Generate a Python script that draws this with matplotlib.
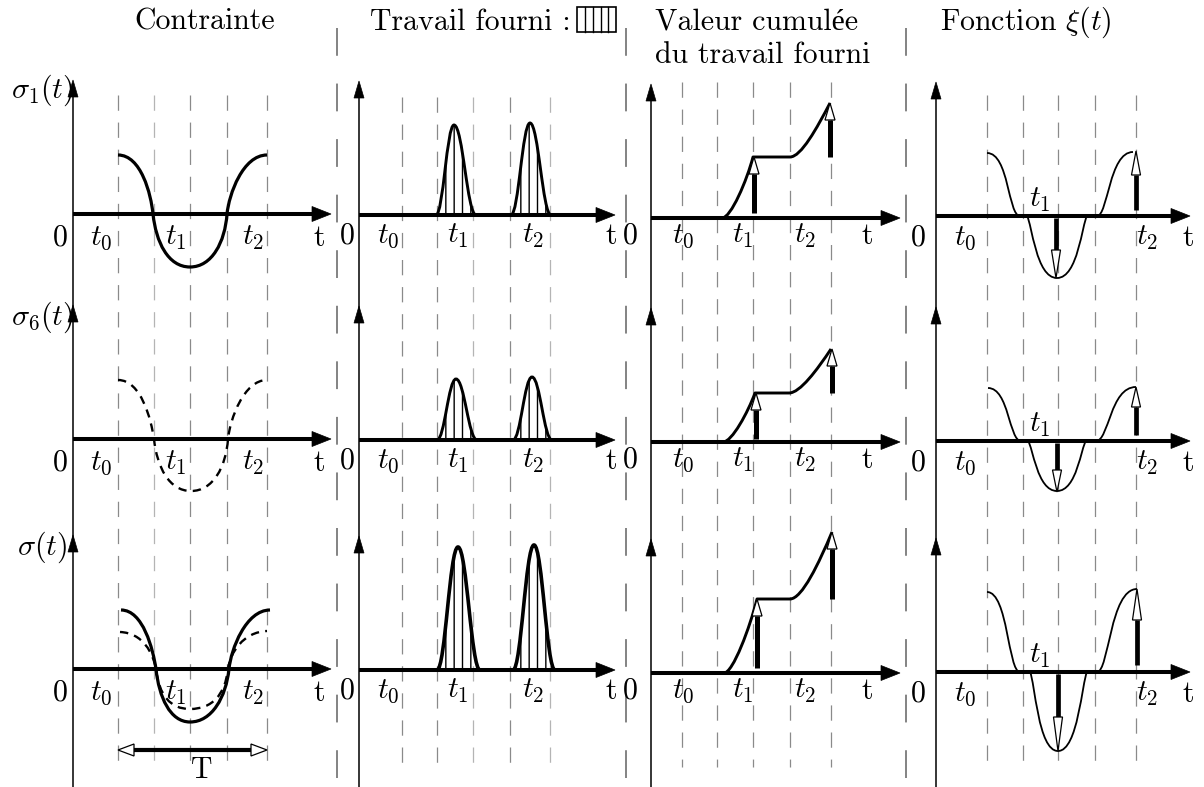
import matplotlib
matplotlib.use("Agg")
import matplotlib.pyplot as plt
from matplotlib.path import Path
from matplotlib.patches import PathPatch, Polygon, Rectangle
from matplotlib.transforms import Affine2D

plt.rcParams["mathtext.fontset"] = "cm"
plt.rcParams["lines.scale_dashes"] = False
plt.rcParams["hatch.linewidth"] = 1.0

# ------------------------------------------------------------------ data
# Local units of every panel: x = distance to the right of its y axis,
# y = height above its t axis.
column_titles = ["Contrainte", "Travail fourni :", "Valeur cumulée", "du travail fourni",
                 r"Fonction $\xi(t)$"]
row_labels = [r"$\sigma_1(t)$", r"$\sigma_6(t)$", r"$\sigma(t)$"]
tick_names = ["0", r"$t_0$", r"$t_1$", r"$t_2$", "t"]
period_label = "T"

# Contrainte (cubic Bezier vertices: start, then ctrl, ctrl, end ...)
sigma1_x = [45, 68, 78, 80, 83, 95, 117, 139, 152, 154, 156, 170, 194]
sigma1_y = [59, 59, 20, 0, -28, -53, -53, -53, -28, 0, 20, 59, 59]
sigma6_x = [45, 68, 78, 81, 84, 96, 118, 140, 153, 155, 157, 171, 194]
sigma6_y = [59, 59, 20, 0, -28, -52, -52, -52, -28, 0, 20, 59, 59]
sigma_x = [48, 70, 80, 83, 86, 97, 117, 139, 153, 156, 158, 173, 197]
sigma_y = [59, 59, 20, 0, -28, -53, -53, -53, -28, 0, 20, 59, 59]
sigma6b_x = [47, 70, 80, 83, 86, 97, 117, 139, 152, 155, 157, 170, 194]
sigma6b_y = [37, 36, 16, 0, -26, -40, -40, -40, -26, 0, 16, 37, 38]

# Travail fourni: bumps (start, peak, end, height) per row
work_start = [[77, 152], [78, 154], [78, 154]]
work_peak = [[95, 171], [97, 173], [99, 175]]
work_end = [[117, 192], [118, 193], [121, 196]]
work_height = [[90, 92], [61, 63], [123, 125]]

# Valeur cumulée du travail fourni (Bezier vertices)
cum1_x = [71, 80, 96, 102, 114, 127, 139, 150, 166, 179]
cum1_y = [0, 0, 38, 61, 61, 61, 61, 61, 90, 115]
cum2_x = [72, 81, 97, 104, 115, 127, 138, 149, 166, 180]
cum2_y = [0, 0, 30, 49, 49, 49, 49, 49, 72, 93]
cum3_x = [73, 82, 99, 106, 117, 128, 139, 151, 168, 181]
cum3_y = [0, 0, 46, 74, 74, 74, 74, 74, 110, 141]
# increments: (x, from, to)
cum_arrows = [[(103, 5, 61), (179, 61, 115)],
              [(105, 3, 49), (181, 49, 93)],
              [(106, 5, 74), (181, 74, 141)]]

# Fonction xi(t) (Bezier vertices)
xi1_x = [51, 73, 72, 84, 87, 89, 91, 96, 100, 121, 142, 146, 151, 154, 158, 161, 172, 173, 197]
xi1_y = [63, 63, 0, 0, 0, 0, 0, -8, -62, -62, -62, -8, 0, 0, 0, 0, 0, 64, 64]
xi2_x = [52, 73, 73, 85, 87, 90, 92, 97, 101, 121, 141, 145, 150, 153, 157, 160, 173, 174, 200]
xi2_y = [53, 53, 0, 0, 0, 0, 0, -6, -50, -50, -50, -6, 0, 0, 0, 0, 0, 54, 54]
xi3_x = [51, 72, 72, 84, 88, 91, 94, 99, 102, 122, 142, 146, 151, 154, 158, 161, 173, 174, 201]
xi3_y = [80, 80, 0, 0, 0, 0, 0, -10, -79, -79, -79, -10, 0, 0, 0, 0, 0, 83, 83]
# (x, from, to, head length)
xi_arrows = [[(120, -2, -62, 28), (200, 6, 65, 24)],
             [(121, -2, -51, 22), (200, 6, 54, 20)],
             [(122, -2, -79, 34), (201, 7, 83, 31)]]

# period arrow T (x from, x to, height) in the Contrainte panel of row 3
period_x = [45, 194]
period_y = -81

# ------------------------------------------------------------------ layout
X0 = [73, 359, 651, 936]                       # y-axis pixel column of each panel
AXIS_Y = [[214, 215, 218, 216],                # t-axis pixel row, per row and column
          [439, 440, 442, 441],
          [669, 670, 673, 672]]
AXIS_LEN = [258, 256, 249, 254]
Y_TIP = 134
GUIDES = [[45, 81, 117, 154, 194],
          [43, 78, 114, 151, 191],
          [31, 66, 102, 139, 180],
          [51, 87, 122, 159, 200]]
GUIDE_LIGHT = [[1], [2, 4], [], []]
GUIDE_TOP = [95, 97, 82, 95]
GUIDE_BOTTOM = 767
SEPARATORS = [337, 626, 906]
TICK_X = [[-13, 28, 103, 180, 246],
          [-12, 29, 99, 174, 252],
          [-21, 32, 92, 154, 216],
          [-18, 29, 104, 211, 252]]
TICK_DY = [-24, -21, -18, -22]

FS = 21.5
SERIF = ["cmr10", "Liberation Serif"]

fig = plt.figure(figsize=(12.04, 7.87), dpi=100)
ax = fig.add_axes([0, 0, 1, 1])
ax.set_xlim(0, 1204)
ax.set_ylim(787, 0)
ax.axis("off")


def local(c, r):
    return Affine2D().scale(1, -1).translate(X0[c], AXIS_Y[r][c]) + ax.transData


def bezier(xs, ys, c, r, **kw):
    verts = list(zip(xs, ys))
    codes = [Path.MOVETO] + [Path.CURVE4] * (len(verts) - 1)
    ax.add_patch(PathPatch(Path(verts, codes), fill=False, transform=local(c, r),
                           capstyle="butt", joinstyle="round", zorder=4, **kw))


def bump(a, p, b, h, c, r, lw):
    verts = [(a, 0), (a + 0.4 * (p - a), 0), (p - 0.4 * (p - a), h), (p, h),
             (p + 0.4 * (b - p), h), (b - 0.4 * (b - p), 0), (b, 0), (a, 0)]
    codes = [Path.MOVETO] + [Path.CURVE4] * 6 + [Path.CLOSEPOLY]
    ax.add_patch(PathPatch(Path(verts, codes), facecolor="none", edgecolor="black",
                           hatch="||", lw=lw, transform=local(c, r), zorder=4))


def up_arrow(x, y0, y1, c, r, head_len, head_w, shaft_w):
    s = 1 if y1 > y0 else -1
    yb = y1 - s * head_len
    ax.plot([x, x], [y0, yb], color="black", lw=shaft_w, solid_capstyle="butt",
            transform=local(c, r), zorder=5)
    ax.add_patch(Polygon([(x - head_w / 2, yb), (x + head_w / 2, yb), (x, y1)],
                         closed=True, facecolor="white", edgecolor="black", lw=0.9,
                         transform=local(c, r), zorder=6))


# column separators
for xs in SEPARATORS:
    ax.plot([xs, xs], [28, 787], color="#6e6e6e", lw=1.2, ls=(0, (20, 20)), zorder=1)

# dashed guides
for c in range(4):
    for i, off in enumerate(GUIDES[c]):
        col = "#b4b4b4" if i in GUIDE_LIGHT[c] else "#8a8a8a"
        ax.plot([X0[c] + off] * 2, [GUIDE_TOP[c], GUIDE_BOTTOM], color=col, lw=0.9,
                ls=(0, (11, 8.5)), zorder=1)

# axes
for c in range(4):
    ax.plot([X0[c], X0[c]], [787, AXIS_Y[0][c] - Y_TIP + 10], color="black", lw=1.1, zorder=3)
    for r in range(3):
        tr = local(c, r)
        ax.add_patch(Polygon([(-5, Y_TIP - 17), (5, Y_TIP - 17), (0, Y_TIP)], closed=True,
                             facecolor="black", edgecolor="black", lw=0.5, transform=tr, zorder=3))
        L = AXIS_LEN[c]
        ax.plot([0, L - 12], [0, 0], color="black", lw=2.9, solid_capstyle="butt",
                transform=tr, zorder=6)
        ax.add_patch(Polygon([(L - 19, -7.5), (L - 19, 7.5), (L, 0)], closed=True,
                             facecolor="black", edgecolor="black", lw=0.5, transform=tr, zorder=6))
        for k, name in enumerate(tick_names):
            if c == 3 and k == 2:
                ax.text(104, 16, name, transform=tr, fontsize=FS, family=SERIF,
                        ha="center", va="center", zorder=7)
                continue
            ax.text(TICK_X[c][k], TICK_DY[c], name, transform=tr, fontsize=FS, family=SERIF,
                    ha="center", va="center", zorder=7)

# column 1: Contrainte
bezier(sigma1_x, sigma1_y, 0, 0, lw=2.3, edgecolor="black")
bezier(sigma6_x, sigma6_y, 0, 1, lw=1.7, edgecolor="black", ls=(0, (6, 4.5)))
bezier(sigma_x, sigma_y, 0, 2, lw=2.3, edgecolor="black")
bezier(sigma6b_x, sigma6b_y, 0, 2, lw=1.7, edgecolor="black", ls=(0, (6, 4.5)))
tr = local(0, 2)
ax.plot([period_x[0] + 14, period_x[1] - 14], [period_y, period_y], color="black", lw=3,
        solid_capstyle="butt", transform=tr, zorder=5)
for xe, d in ((period_x[0], 1), (period_x[1], -1)):
    ax.add_patch(Polygon([(xe + d * 16, period_y - 6), (xe + d * 16, period_y + 6), (xe, period_y)],
                         closed=True, facecolor="white", edgecolor="black", lw=0.9,
                         transform=tr, zorder=6))
ax.text((period_x[0] + period_x[1]) / 2 + 9, period_y - 20, period_label, transform=tr,
        fontsize=FS, family=SERIF, ha="center", va="center")

# column 2: Travail fourni
for r in range(3):
    for k in range(2):
        bump(work_start[r][k], work_peak[r][k], work_end[r][k], work_height[r][k], 1, r,
             lw=2.6 if r == 2 else 2.1)

# column 3: cumulated work
for r, (xs, ys) in enumerate(((cum1_x, cum1_y), (cum2_x, cum2_y), (cum3_x, cum3_y))):
    bezier(xs, ys, 2, r, lw=2.1, edgecolor="black")
    for (x, y0, y1) in cum_arrows[r]:
        up_arrow(x, y0, y1, 2, r, 17, 10, 3.6)

# column 4: xi(t)
for r, (xs, ys) in enumerate(((xi1_x, xi1_y), (xi2_x, xi2_y), (xi3_x, xi3_y))):
    bezier(xs, ys, 3, r, lw=1.3, edgecolor="black")
    for (x, y0, y1, hl) in xi_arrows[r]:
        up_arrow(x, y0, y1, 3, r, hl, 9, 3.4)

# row labels
for r, lab in enumerate(row_labels):
    ax.text(X0[0] - 31, AXIS_Y[r][0] - Y_TIP + 12 + (0 if r else -2), lab, fontsize=FS,
            ha="center", va="center")

# titles
ax.text(205, 22, column_titles[0], fontsize=FS, family=SERIF, ha="center", va="center")
ax.text(571, 22, column_titles[1], fontsize=FS, family=SERIF, ha="right", va="center")
ax.text(655, 22, column_titles[2], fontsize=FS, family=SERIF, ha="left", va="center")
ax.text(655, 55, column_titles[3], fontsize=FS, family=SERIF, ha="left", va="center")
ax.text(940, 22, column_titles[4], fontsize=FS, family=SERIF, ha="left", va="center")
ax.add_patch(Rectangle((577, 7), 39, 25, facecolor="none", edgecolor="black", lw=1.2))
for xl in (585, 593, 601, 608):
    ax.plot([xl, xl], [7, 32], color="black", lw=1.0)

fig.savefig("out.png", dpi=100)
